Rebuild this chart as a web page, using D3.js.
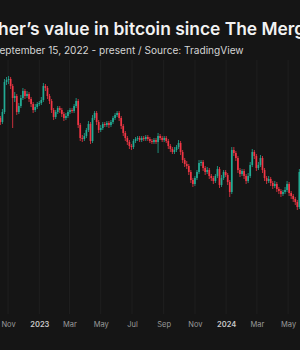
<!DOCTYPE html>
<html>
<head>
<meta charset="utf-8">
<script src="https://cdn.jsdelivr.net/npm/d3@7"></script>
<style>
  html, body { margin: 0; padding: 0; background: #151515; overflow: hidden; }
  svg { display: block; }
</style>
</head>
<body>
<svg id="chart"></svg>
<script>
// ETH/BTC, 4-day candles from the Merge
const startDate = "2022-09-15";
const stepDays = 4;
const firstOpen = 0.0748;

const closes = [
  0.0744,0.0736,0.0730,0.0720,0.0712,0.0700,0.0692,0.0684,0.0676,0.0696,
  0.0756,0.0760,0.0762,0.0748,0.0724,0.0728,0.0696,0.0708,0.0724,0.0738,
  0.0728,0.0732,0.0722,0.0712,0.0700,0.0706,0.0712,0.0714,0.0720,0.0748,
  0.0744,0.0728,0.0718,0.0700,0.0686,0.0696,0.0704,0.0700,0.0692,0.0684,
  0.0688,0.0696,0.0700,0.0698,0.0708,0.0718,0.0670,0.0644,0.0642,0.0648,
  0.0660,0.0672,0.0638,0.0684,0.0694,0.0676,0.0660,0.0664,0.0672,0.0670,
  0.0674,0.0670,0.0676,0.0684,0.0690,0.0694,0.0684,0.0668,0.0654,0.0644,
  0.0636,0.0628,0.0626,0.0638,0.0642,0.0644,0.0640,0.0644,0.0642,0.0646,
  0.0642,0.0638,0.0636,0.0640,0.0636,0.0648,0.0644,0.0640,0.0644,0.0638,
  0.0628,0.0622,0.0616,0.0620,0.0626,0.0634,0.0616,0.0600,0.0592,0.0588,
  0.0576,0.0560,0.0552,0.0564,0.0576,0.0594,0.0596,0.0584,0.0576,0.0580,
  0.0568,0.0564,0.0558,0.0568,0.0582,0.0550,0.0564,0.0576,0.0570,0.0556,
  0.0536,0.0620,0.0614,0.0604,0.0580,0.0572,0.0578,0.0568,0.0558,0.0568,
  0.0590,0.0616,0.0608,0.0584,0.0590,0.0604,0.0580,0.0564,0.0558,0.0562,
  0.0554,0.0548,0.0552,0.0542,0.0538,0.0532,0.0536,0.0540,0.0552,0.0534,
  0.0528,0.0522,0.0516,0.0506,0.0576,0.0590,0.0584,0.0588
];

const highs = [
  0.0752,0.0748,0.0740,0.0734,0.0724,0.0716,0.0706,0.0696,0.0688,0.0702,
  0.0762,0.0766,0.0768,0.0766,0.0752,0.0736,0.0732,0.0714,0.0730,0.0744,
  0.0742,0.0738,0.0736,0.0726,0.0716,0.0712,0.0716,0.0718,0.0726,0.0754,
  0.0752,0.0748,0.0732,0.0722,0.0704,0.0700,0.0708,0.0708,0.0704,0.0696,
  0.0694,0.0700,0.0704,0.0704,0.0712,0.0724,0.0722,0.0674,0.0650,0.0654,
  0.0664,0.0678,0.0676,0.0690,0.0698,0.0698,0.0680,0.0670,0.0676,0.0676,
  0.0678,0.0678,0.0680,0.0688,0.0694,0.0698,0.0698,0.0688,0.0672,0.0658,
  0.0648,0.0640,0.0632,0.0642,0.0646,0.0648,0.0648,0.0648,0.0648,0.0650,
  0.0650,0.0646,0.0642,0.0644,0.0644,0.0654,0.0652,0.0648,0.0648,0.0648,
  0.0642,0.0632,0.0626,0.0626,0.0630,0.0640,0.0638,0.0620,0.0604,0.0598,
  0.0592,0.0580,0.0564,0.0568,0.0580,0.0600,0.0600,0.0600,0.0588,0.0586,
  0.0584,0.0572,0.0568,0.0572,0.0588,0.0586,0.0570,0.0580,0.0580,0.0574,
  0.0560,0.0626,0.0626,0.0618,0.0608,0.0584,0.0582,0.0582,0.0572,0.0574,
  0.0596,0.0622,0.0620,0.0612,0.0596,0.0610,0.0608,0.0584,0.0568,0.0568,
  0.0566,0.0558,0.0558,0.0556,0.0546,0.0542,0.0540,0.0546,0.0558,0.0556,
  0.0538,0.0532,0.0526,0.0520,0.0582,0.0596,0.0596,0.0594
];

const lows = [
  0.0738,0.0730,0.0726,0.0714,0.0706,0.0694,0.0686,0.0678,0.0670,0.0672,
  0.0692,0.0750,0.0752,0.0742,0.0664,0.0716,0.0690,0.0692,0.0704,0.0720,
  0.0722,0.0724,0.0716,0.0706,0.0694,0.0696,0.0702,0.0708,0.0710,0.0716,
  0.0738,0.0722,0.0712,0.0694,0.0680,0.0682,0.0692,0.0694,0.0686,0.0678,
  0.0680,0.0684,0.0692,0.0694,0.0694,0.0704,0.0664,0.0638,0.0636,0.0638,
  0.0644,0.0656,0.0632,0.0634,0.0680,0.0670,0.0654,0.0656,0.0660,0.0666,
  0.0666,0.0664,0.0666,0.0672,0.0680,0.0686,0.0678,0.0662,0.0648,0.0638,
  0.0630,0.0622,0.0620,0.0622,0.0634,0.0638,0.0636,0.0636,0.0638,0.0638,
  0.0638,0.0634,0.0632,0.0632,0.0632,0.0614,0.0640,0.0636,0.0636,0.0634,
  0.0622,0.0616,0.0612,0.0612,0.0616,0.0622,0.0610,0.0594,0.0586,0.0582,
  0.0570,0.0554,0.0546,0.0548,0.0560,0.0572,0.0588,0.0578,0.0570,0.0572,
  0.0562,0.0558,0.0552,0.0554,0.0564,0.0544,0.0546,0.0560,0.0566,0.0550,
  0.0526,0.0532,0.0608,0.0598,0.0574,0.0566,0.0568,0.0562,0.0552,0.0554,
  0.0564,0.0586,0.0602,0.0578,0.0580,0.0586,0.0574,0.0558,0.0552,0.0554,
  0.0548,0.0542,0.0544,0.0536,0.0532,0.0526,0.0528,0.0532,0.0536,0.0528,
  0.0522,0.0516,0.0510,0.0500,0.0502,0.0570,0.0578,0.0580
];

const tickDates = ["2022-11-01","2023-01-01","2023-03-01","2023-05-01","2023-07-01",
  "2023-09-01","2023-11-01","2024-01-01","2024-03-01","2024-05-01"];
const tickLabels = ["Nov","2023","Mar","May","Jul","Sep","Nov","2024","Mar","May"];

const width = 300, height = 350;
const upColor = "#22ab94", downColor = "#f23645";

const svg = d3.select("#chart").attr("width", width).attr("height", height);

const parse = d3.utcParse("%Y-%m-%d");
const t0 = parse(startDate);

const x = d3.scaleUtc()
  .domain([t0, parse("2024-07-15")])
  .range([-16, 326.5]);

const y = d3.scaleLinear()
  .domain([0.046, 0.080])
  .range([230, 60]);

const candles = closes.map((c, i) => ({
  date: d3.utcDay.offset(t0, i * stepDays),
  open: i === 0 ? firstOpen : closes[i - 1],
  close: c,
  high: highs[i],
  low: lows[i]
}));

// background grid
svg.append("g")
  .selectAll("line")
  .data(tickDates.map(parse))
  .join("line")
    .attr("x1", d => x(d)).attr("x2", d => x(d))
    .attr("y1", 60).attr("y2", 314)
    .attr("stroke", "#1f1f1f")
    .attr("stroke-width", 1);

// candles
const bw = 1.7;
const g = svg.append("g");
g.selectAll("line.wick")
  .data(candles)
  .join("line")
    .attr("class", "wick")
    .attr("x1", d => x(d.date)).attr("x2", d => x(d.date))
    .attr("y1", d => y(d.high)).attr("y2", d => y(d.low))
    .attr("stroke", d => d.close >= d.open ? upColor : downColor)
    .attr("stroke-width", 0.8);

g.selectAll("rect.body")
  .data(candles)
  .join("rect")
    .attr("class", "body")
    .attr("x", d => x(d.date) - bw / 2)
    .attr("width", bw)
    .attr("y", d => y(Math.max(d.open, d.close)))
    .attr("height", d => Math.max(0.8, Math.abs(y(d.open) - y(d.close))))
    .attr("fill", d => d.close >= d.open ? upColor : downColor);

// x axis
const axis = svg.append("g")
  .attr("transform", "translate(0,322)")
  .call(d3.axisBottom(x)
    .tickValues(tickDates.map(parse))
    .tickFormat((d, i) => tickLabels[i])
    .tickSize(0)
    .tickPadding(0));
axis.select(".domain").remove();
axis.selectAll("text")
  .attr("font-family", "Inter, sans-serif")
  .attr("font-size", 7.5)
  .attr("font-weight", (d, i) => /^\d/.test(tickLabels[i]) ? 600 : 400)
  .attr("fill", (d, i) => /^\d/.test(tickLabels[i]) ? "#c8c8c8" : "#9a9a9a");

// titles
svg.append("text")
  .attr("x", -18.6).attr("y", 35)
  .attr("font-family", "Inter, sans-serif")
  .attr("font-size", 17.4)
  .attr("font-weight", 600)
  .attr("fill", "#f2f2f2")
  .text("Ether’s value in bitcoin since The Merge");

svg.append("text")
  .attr("x", -7).attr("y", 54)
  .attr("font-family", "Inter, sans-serif")
  .attr("font-size", 10.1)
  .attr("fill", "#d4d4d4")
  .text("September 15, 2022 - present / Source: TradingView");
</script>
</body>
</html>
